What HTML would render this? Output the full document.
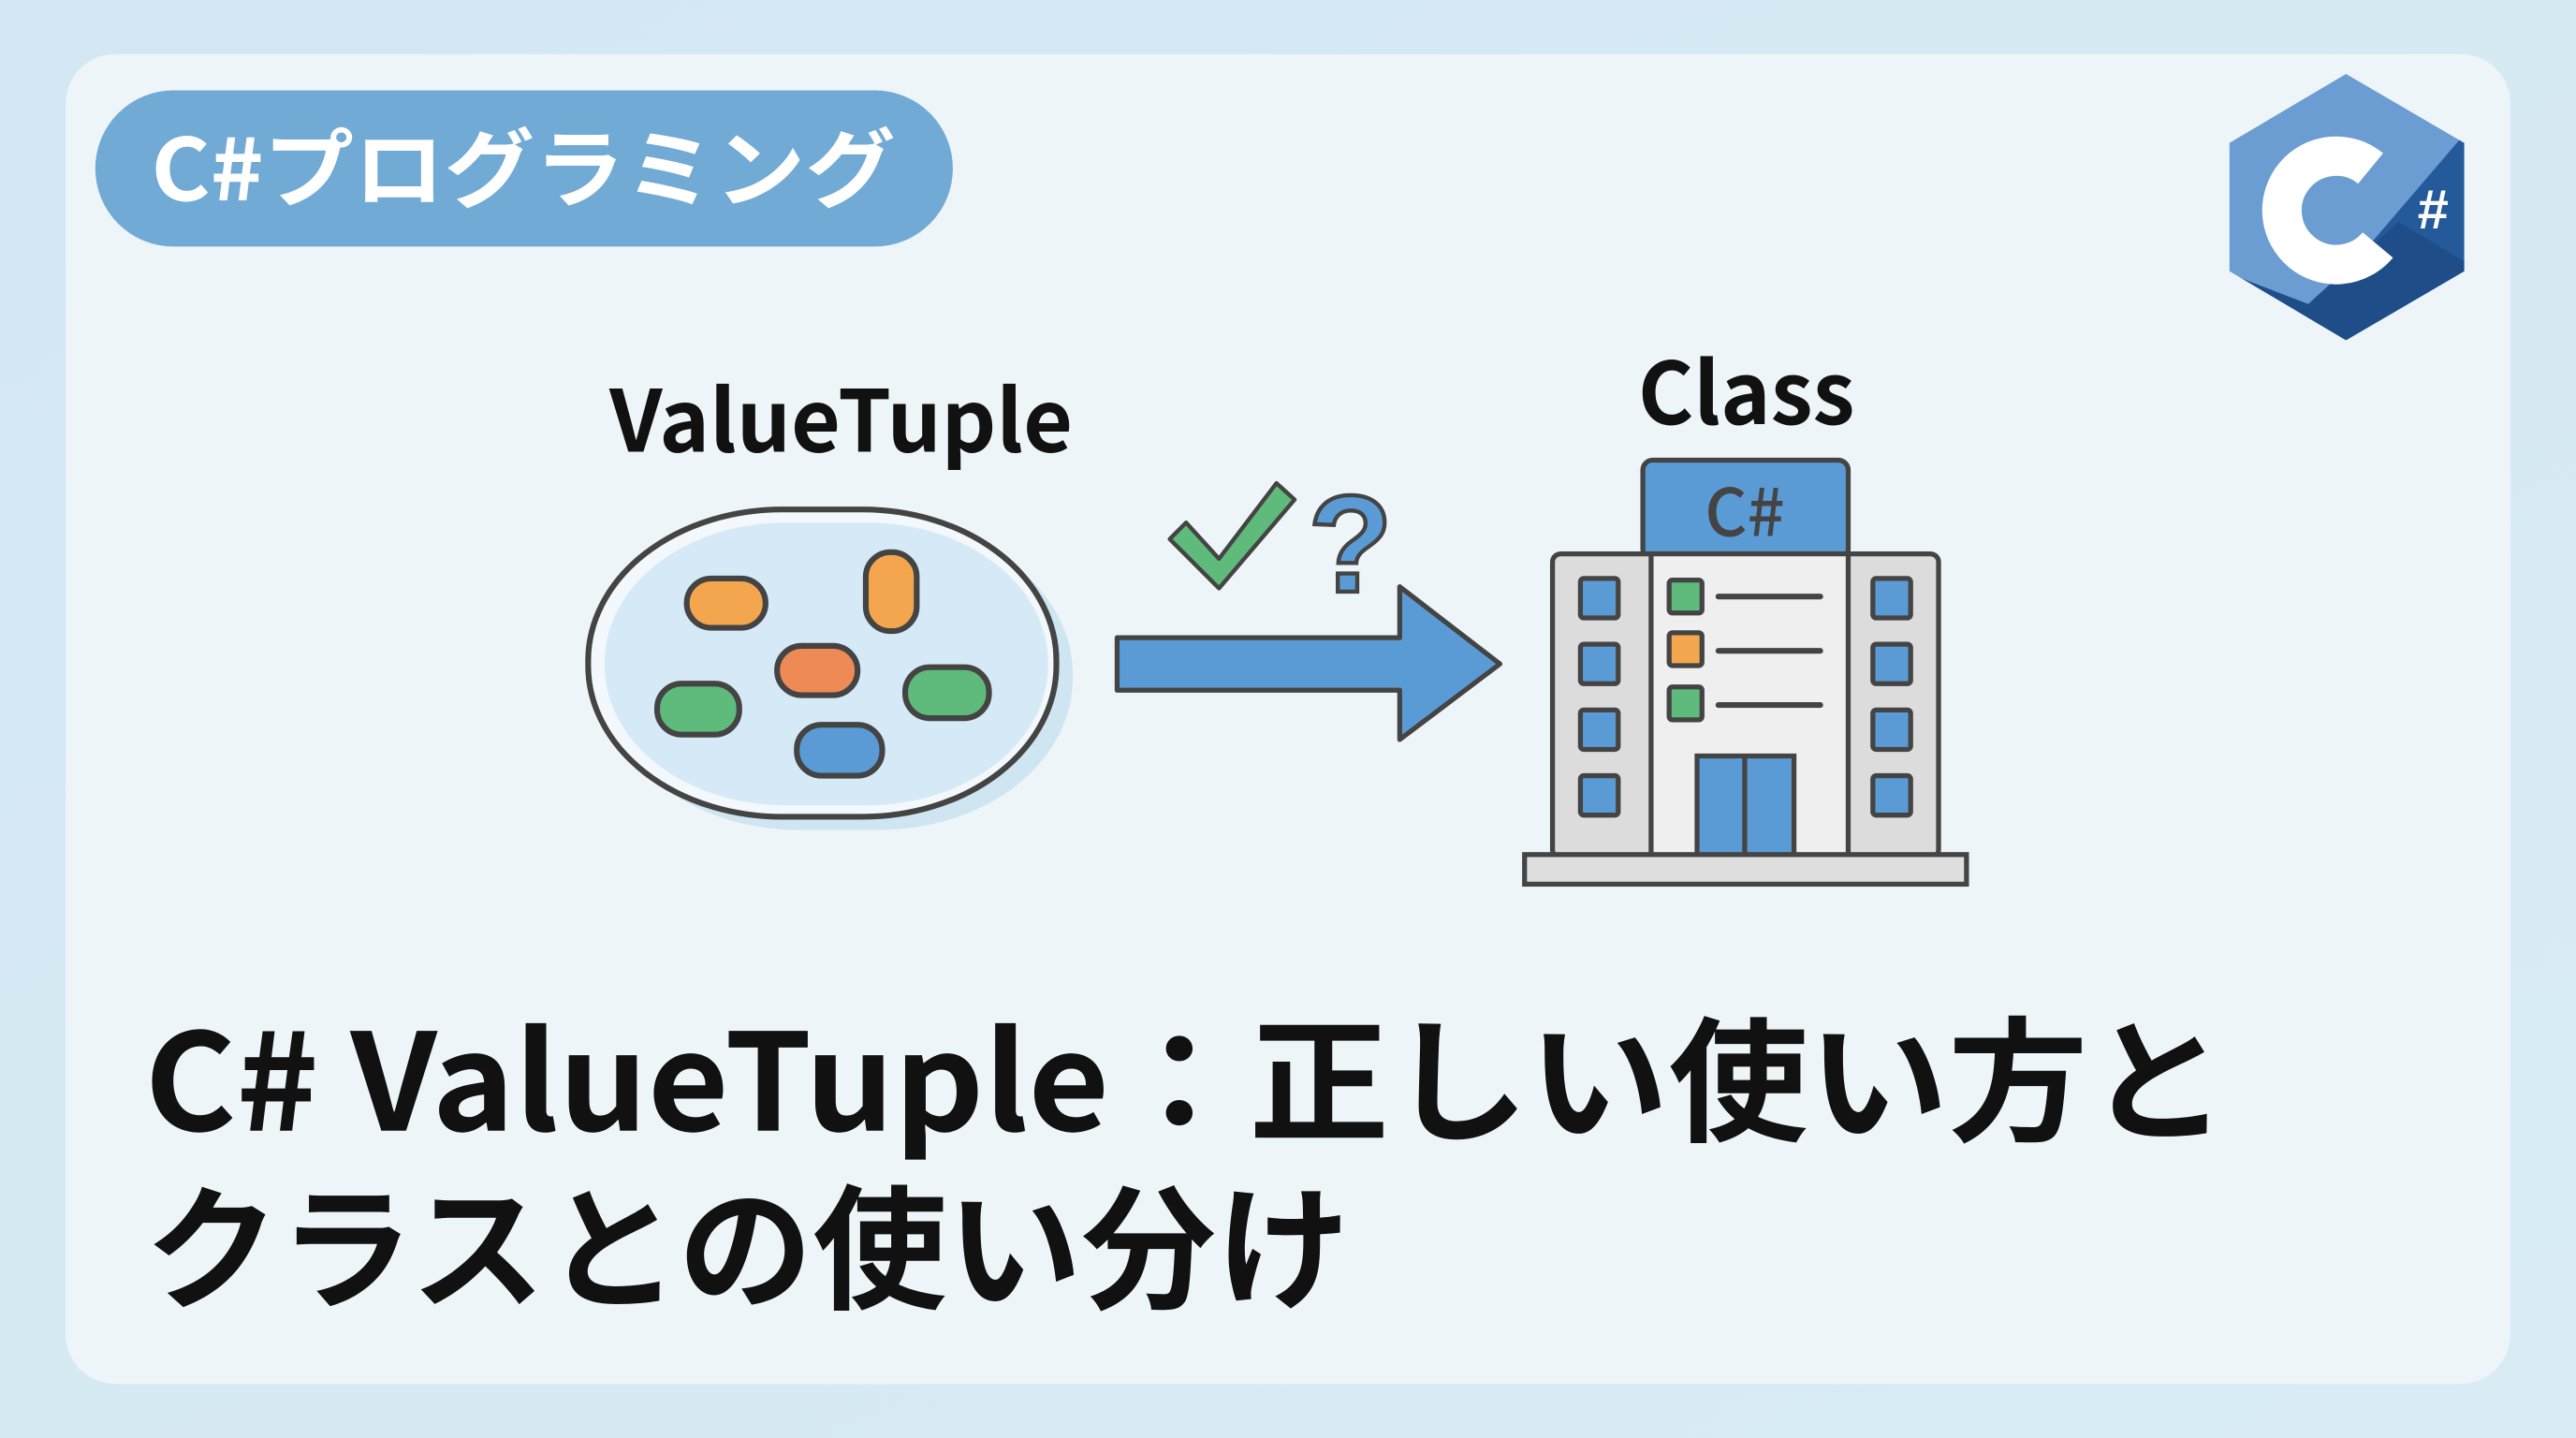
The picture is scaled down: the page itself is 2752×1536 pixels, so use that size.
<!DOCTYPE html>
<html><head><meta charset="utf-8"><style>
html,body{margin:0;padding:0;width:2752px;height:1536px;overflow:hidden;background:#d7eaf4}
svg{display:block}
</style></head><body>
<svg width="2752" height="1536" viewBox="0 0 1568 875" preserveAspectRatio="none" xmlns="http://www.w3.org/2000/svg">
<defs>
<linearGradient id="bg" x1="0" y1="0" x2="1" y2="1"><stop offset="0" stop-color="#d4e8f3"/><stop offset="1" stop-color="#d9ecf5"/></linearGradient>
<clipPath id="hex"><polygon points="1428,45 1500,87 1500,165 1428,207 1357,165 1357,87"/></clipPath>
</defs>
<rect width="1568" height="875" fill="url(#bg)"/>
<rect x="40" y="33" width="1488" height="809" rx="30" fill="#eef5f9"/>
<!-- pill -->
<rect x="58" y="55" width="522" height="95" rx="47.5" fill="#72aad6"/>
<text x="92" y="122" font-family="'Noto Sans CJK JP','Liberation Sans',sans-serif" font-weight="700" font-size="52" fill="#fff" textLength="453" lengthAdjust="spacingAndGlyphs">C#プログラミング</text>
<!-- C# logo -->
<g clip-path="url(#hex)">
<rect x="1350" y="40" width="160" height="170" fill="#6b9dd2"/>
<polygon points="1510,70 1510,210 1390,210" fill="#245a9a"/>
<polygon points="1340,160 1428,212 1510,165 1460,135 1405,185" fill="#1e4d88"/>
</g>
<circle cx="1422" cy="128" r="33" fill="none" stroke="#fff" stroke-width="24" stroke-dasharray="155 52" transform="rotate(40 1422 128)"/>
<text x="1481" y="139" text-anchor="middle" font-family="'Liberation Sans',sans-serif" font-weight="700" font-size="34" fill="#fff">#</text>
<!-- ValueTuple label -->
<text x="512" y="275" text-anchor="middle" font-family="'Noto Sans CJK JP','Liberation Sans',sans-serif" font-weight="700" font-size="52" fill="#111" textLength="282" lengthAdjust="spacingAndGlyphs">ValueTuple</text>
<!-- container -->
<rect x="368" y="318" width="285" height="187" rx="118" ry="92" fill="#cfe5f2"/>
<rect x="358" y="310" width="285" height="187" rx="118" ry="92" fill="#f2f8fc" stroke="#444" stroke-width="3.5"/>
<rect x="368" y="318" width="270" height="172" rx="110" ry="85" fill="#d5eaf6"/>
<g stroke="#444" stroke-width="3.5">
<rect x="418" y="352" width="48" height="30" rx="15" fill="#f4a64e"/>
<rect x="527" y="336" width="31" height="48" rx="15" fill="#f4a64e"/>
<rect x="473" y="393" width="49" height="30" rx="15" fill="#ee8a55"/>
<rect x="400" y="416" width="50" height="31" rx="15" fill="#5fbb7c"/>
<rect x="551" y="406" width="51" height="31" rx="15" fill="#5fbb7c"/>
<rect x="485" y="441" width="52" height="31" rx="15" fill="#5b9bd5"/>
</g>
<!-- arrow -->
<polygon points="680,388 852,388 852,357 913,404 852,450 852,420 680,420" fill="#5b9bd5" stroke="#444" stroke-width="3" stroke-linejoin="round"/>
<!-- check -->
<polygon points="712,328 722,318 742,340 777,294 788,304 742,358" fill="#5fbb7c" stroke="#444" stroke-width="2.5" stroke-linejoin="round"/>
<text x="822" y="360" text-anchor="middle" font-family="'Liberation Sans',sans-serif" font-weight="700" font-size="84" fill="#5b9bd5" stroke="#444" stroke-width="2.5">?</text>
<!-- Class label -->
<text x="1063" y="258" text-anchor="middle" font-family="'Noto Sans CJK JP','Liberation Sans',sans-serif" font-weight="700" font-size="52" fill="#111" textLength="132" lengthAdjust="spacingAndGlyphs">Class</text>
<!-- building -->
<g stroke="#444" stroke-width="3">
<rect x="1000" y="280" width="125" height="60" rx="6" fill="#5b9bd5"/>
<rect x="945" y="337" width="235" height="185" rx="5" fill="#dcdcdc"/>
<rect x="1005" y="337" width="120" height="185" fill="#efefef"/>
<g fill="#5b9bd5">
<rect x="962" y="352" width="23" height="24" rx="2"/><rect x="962" y="392" width="23" height="24" rx="2"/><rect x="962" y="432" width="23" height="24" rx="2"/><rect x="962" y="472" width="23" height="24" rx="2"/>
<rect x="1140" y="352" width="23" height="24" rx="2"/><rect x="1140" y="392" width="23" height="24" rx="2"/><rect x="1140" y="432" width="23" height="24" rx="2"/><rect x="1140" y="472" width="23" height="24" rx="2"/>
</g>
<rect x="1016" y="353" width="20" height="20" rx="2" fill="#5fbb7c"/>
<rect x="1016" y="385" width="20" height="20" rx="2" fill="#f4a64e"/>
<rect x="1016" y="418" width="20" height="20" rx="2" fill="#5fbb7c"/>
<g stroke-linecap="round" stroke-width="3.5"><line x1="1046" y1="363" x2="1108" y2="363"/><line x1="1046" y1="396" x2="1108" y2="396"/><line x1="1046" y1="429" x2="1108" y2="429"/></g>
<rect x="1033" y="460" width="59" height="62" fill="#5b9bd5"/>
<line x1="1062" y1="460" x2="1062" y2="522"/>
<rect x="928" y="520" width="269" height="18" fill="#dedede"/>
</g>
<text x="1062" y="326" text-anchor="middle" font-family="'Noto Sans CJK JP','Liberation Sans',sans-serif" font-weight="500" font-size="40" fill="#444">C#</text>
<!-- title -->
<text x="88" y="688" font-family="'Noto Sans CJK JP','Liberation Sans',sans-serif" font-weight="700" font-size="82" fill="#111" textLength="1268" lengthAdjust="spacingAndGlyphs">C# ValueTuple：正しい使い方と</text>
<text x="88" y="790" font-family="'Noto Sans CJK JP','Liberation Sans',sans-serif" font-weight="700" font-size="82" fill="#111" textLength="734" lengthAdjust="spacingAndGlyphs">クラスとの使い分け</text>
</svg>
</body></html>
